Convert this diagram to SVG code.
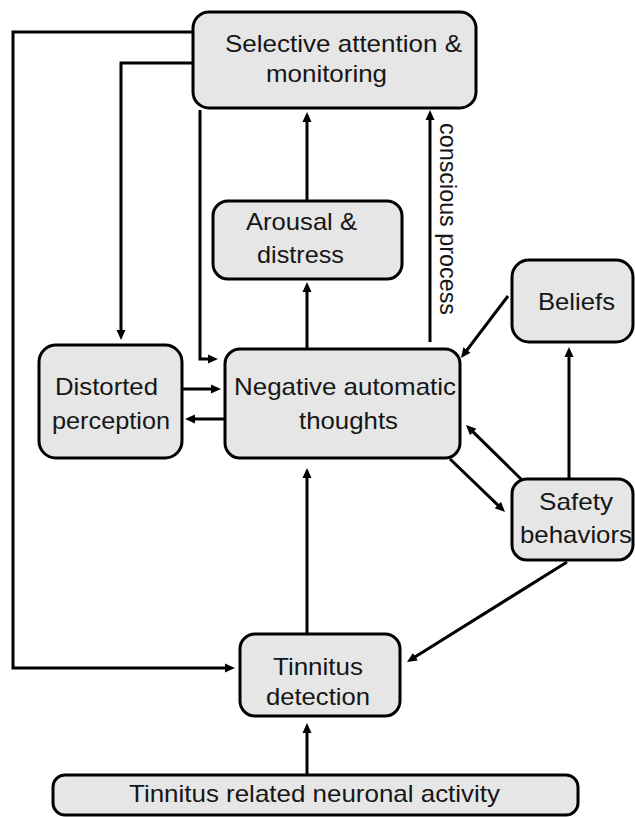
<svg xmlns="http://www.w3.org/2000/svg" width="635" height="817" viewBox="0 0 635 817">
  <style>
    .box { fill: #e6e6e6; stroke: #000; stroke-width: 3; }
    .lbl { font-family: "Liberation Sans", Arial, sans-serif; font-size: 24px; fill: #161616; }
    .wire { fill: none; stroke: #000; stroke-width: 3; }
  </style>
  <defs>
    <marker id="ah" markerUnits="userSpaceOnUse" markerWidth="12" markerHeight="10" viewBox="0 0 12 10" refX="3" refY="5" orient="auto">
      <path d="M0,0.5 L10,5 L0,9.5 z" fill="#000"/>
    </marker>
  </defs>
  <rect width="635" height="817" fill="#fff"/>

  <!-- connectors -->
  <g id="connectors" class="wire" marker-end="url(#ah)">
    <path d="M193,32 H13 V668 H228"/>
    <path d="M193,63 H121 V333"/>
    <path d="M200,110 V359 H211"/>
    <path d="M307,201 V119"/>
    <path d="M307,349 V289"/>
    <path d="M430,342 V117"/>
    <path d="M182,389 H214"/>
    <path d="M224,419 H192"/>
    <path d="M569,479 V354"/>
    <path d="M307,634 V475"/>
    <path d="M307,774 V730"/>
    <path d="M508,296 L465.2,352.4"/>
    <path d="M522,480 L471,429.9"/>
    <path d="M450,459 L500,507.1"/>
    <path d="M567,562 L412.9,658.3"/>
  </g>
  <text class="lbl" transform="translate(440,123) rotate(90)" textLength="192" lengthAdjust="spacingAndGlyphs">conscious process</text>

  <!-- nodes -->
  <g id="selective">
    <rect class="box" x="193" y="12" width="283" height="96" rx="16"/>
    <text class="lbl" x="225" y="52" textLength="237" lengthAdjust="spacingAndGlyphs">Selective attention &amp;</text>
    <text class="lbl" x="266" y="82" textLength="121" lengthAdjust="spacingAndGlyphs">monitoring</text>
  </g>
  <g id="arousal">
    <rect class="box" x="213" y="201" width="189" height="78" rx="15"/>
    <text class="lbl" x="246" y="230" textLength="111" lengthAdjust="spacingAndGlyphs">Arousal &amp;</text>
    <text class="lbl" x="257" y="263" textLength="87" lengthAdjust="spacingAndGlyphs">distress</text>
  </g>
  <g id="distorted">
    <rect class="box" x="39" y="345" width="143" height="113" rx="17"/>
    <text class="lbl" x="55" y="395" textLength="103" lengthAdjust="spacingAndGlyphs">Distorted</text>
    <text class="lbl" x="52" y="429" textLength="118" lengthAdjust="spacingAndGlyphs">perception</text>
  </g>
  <g id="negative">
    <rect class="box" x="225" y="349" width="235" height="109" rx="15"/>
    <text class="lbl" x="234" y="395" textLength="222" lengthAdjust="spacingAndGlyphs">Negative automatic</text>
    <text class="lbl" x="299" y="429" textLength="99" lengthAdjust="spacingAndGlyphs">thoughts</text>
  </g>
  <g id="beliefs">
    <rect class="box" x="512" y="260" width="121" height="82" rx="17"/>
    <text class="lbl" x="538" y="310" textLength="77" lengthAdjust="spacingAndGlyphs">Beliefs</text>
  </g>
  <g id="safety">
    <rect class="box" x="512" y="479" width="121" height="81" rx="15"/>
    <text class="lbl" x="539" y="510" textLength="74" lengthAdjust="spacingAndGlyphs">Safety</text>
    <text class="lbl" x="520" y="543" textLength="112" lengthAdjust="spacingAndGlyphs">behaviors</text>
  </g>
  <g id="detection">
    <rect class="box" x="240" y="634" width="160" height="82" rx="15"/>
    <text class="lbl" x="273" y="675" textLength="90" lengthAdjust="spacingAndGlyphs">Tinnitus</text>
    <text class="lbl" x="266" y="705" textLength="104" lengthAdjust="spacingAndGlyphs">detection</text>
  </g>
  <g id="neuronal">
    <rect class="box" x="53" y="775" width="525" height="40" rx="12"/>
    <text class="lbl" x="129" y="802" textLength="371" lengthAdjust="spacingAndGlyphs">Tinnitus related neuronal activity</text>
  </g>
</svg>
